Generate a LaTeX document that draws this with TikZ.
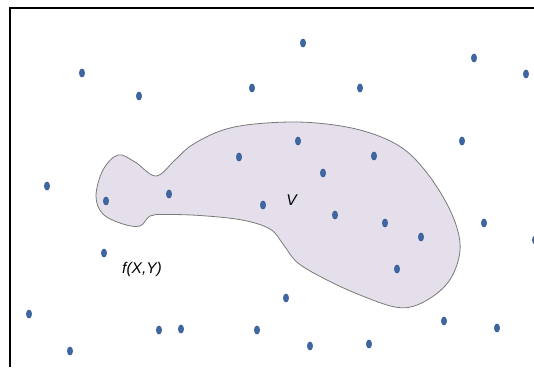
\documentclass[tikz,border=0pt]{standalone}
\usepackage{fontspec}
\setmainfont{Liberation Sans}
\usetikzlibrary{shapes.geometric}
\definecolor{dotfill}{HTML}{3D68A5}
\definecolor{dotedge}{HTML}{2D5189}
\definecolor{blobfill}{HTML}{E4DFEA}
\definecolor{blobedge}{HTML}{7A7A7A}
\tikzset{
  dot/.style={ellipse, fill=dotfill, draw=dotedge, line width=0.5pt, inner sep=0pt, minimum width=5.2pt, minimum height=8.2pt},
  lbl/.style={font=\fontsize{15.5}{17}\selectfont\itshape, inner sep=0pt},
  frame/.style={line width=1.1pt, black},
  blob/.style={fill=blobfill, draw=blobedge, line width=0.8pt}
}
\begin{document}
\begin{tikzpicture}[x=1pt,y=-1pt]
\useasboundingbox (0,0) rectangle (534,367);
% frame
\coordinate (fb) at (10,367);
\coordinate (fc) at (10,8);
\coordinate (fr) at (534,8);
\draw[frame] (fb) -- (fc) -- (fr);
% region V
\draw[blob] plot[smooth cycle, tension=0.6] coordinates {
 (96,196) (103,170) (118,155) (135,162) (156,176) (175,160) (192,145) (223,130)
 (260,123.5) (310,122.5) (360,130) (400,146.5) (427,173) (450,210) (460,243)
 (455,270) (441,290) (417,305) (395,307) (360,295) (327,280) (298,263) (283,244)
 (270,229) (242,220) (200,215.5) (165,214.5) (150,216) (140,226)
 (123,224) (103,214)
};
% dots
\foreach \n/\x/\y in {
 1/82/73, 2/139/96, 3/303/43, 4/252/88, 5/360/88, 6/474/58, 7/526/74,
 8/47/186, 9/106/201, 10/169/194, 11/239/157, 12/298/141, 13/374/156,
 14/323/173, 15/263/205, 16/335/215, 17/385/223, 18/421/237, 19/462/141,
 20/484/223, 21/397/269, 22/104/253, 23/286/298, 24/29/314, 25/159/330,
 26/181/329, 27/257/330, 28/70/351, 29/310/346, 30/369/344, 31/444/321,
 32/497/328, 33/535/240}
  \node[dot] (d\n) at (\x,\y) {};
% labels
\node[lbl] (fxy) at (142,269) {f(X,Y)};
\node[lbl] (V) at (291.5,200.5) {V};
\end{tikzpicture}
\end{document}
